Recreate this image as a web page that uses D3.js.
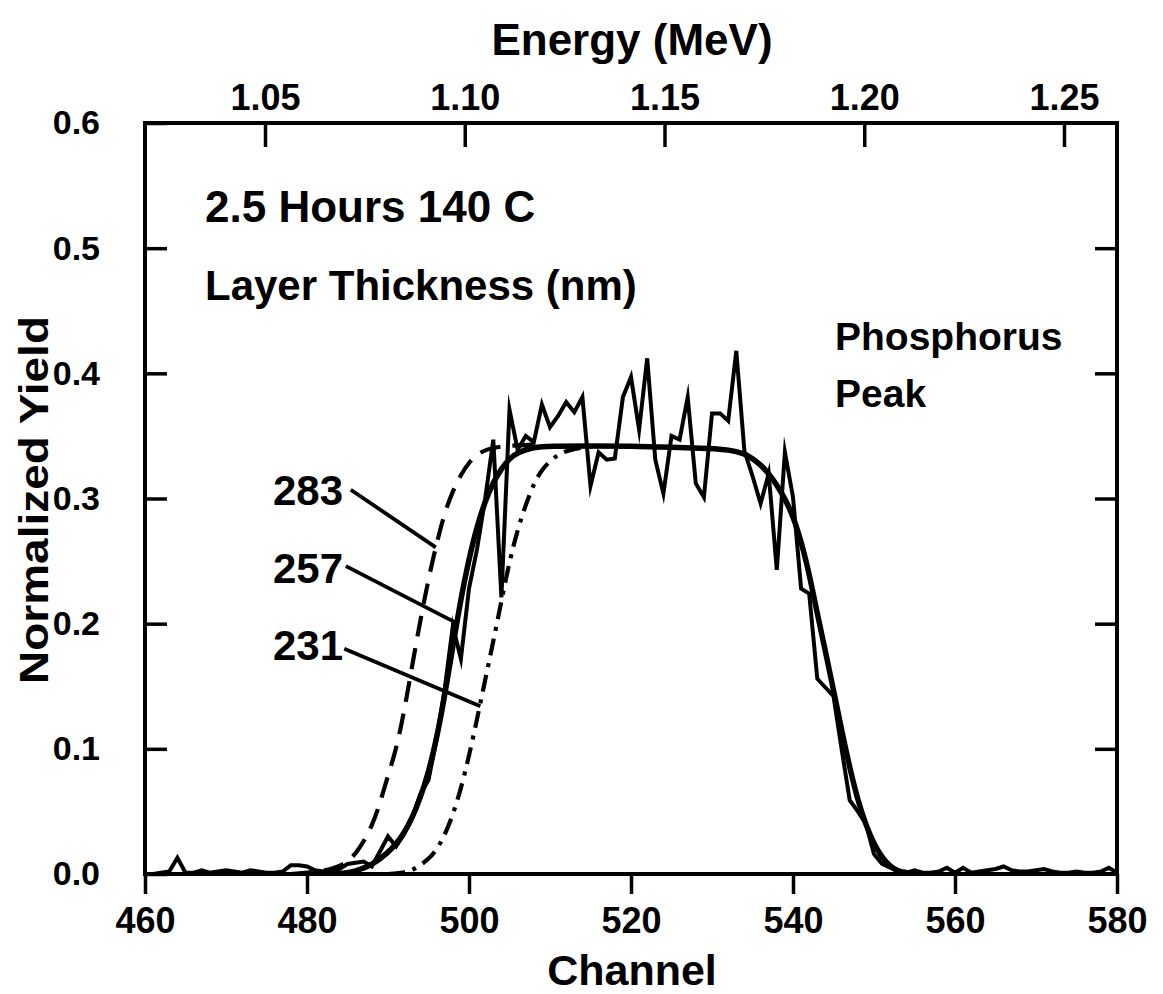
<!DOCTYPE html>
<html>
<head>
<meta charset="utf-8">
<script src="https://cdn.jsdelivr.net/npm/d3@7"></script>
<style>
  html, body { margin: 0; padding: 0; background: #fff; }
  svg { display: block; }
  text { font-family: "Liberation Sans", Arial, sans-serif; font-weight: bold; fill: #000; }
</style>
</head>
<body>
<svg id="chart" width="1163" height="994"></svg>
<script>
// Phosphorus peak, measured spectrum: one yield value per channel, 460..580
const channelStart = 460;
const measuredYield = [
  0.000, 0.000, 0.001, 0.002, 0.013, 0.001, 0.001, 0.003, 0.001, 0.002, // 460-469
  0.003, 0.002, 0.001, 0.003, 0.002, 0.001, 0.001, 0.002, 0.007, 0.007, // 470-479
  0.006, 0.003, 0.002, 0.001, 0.004, 0.008, 0.009, 0.010, 0.006, 0.018, // 480-489
  0.030, 0.022, 0.032, 0.045, 0.064, 0.075, 0.108, 0.148, 0.198, 0.172, // 490-499
  0.228, 0.260, 0.300, 0.347, 0.221, 0.371, 0.339, 0.350, 0.345, 0.375, // 500-509
  0.357, 0.366, 0.377, 0.369, 0.381, 0.310, 0.337, 0.331, 0.332, 0.381, // 510-519
  0.397, 0.355, 0.412, 0.331, 0.304, 0.350, 0.347, 0.381, 0.312, 0.301, // 520-529
  0.368, 0.368, 0.362, 0.418, 0.338, 0.318, 0.296, 0.320, 0.243, 0.337, // 530-539
  0.301, 0.228, 0.224, 0.156, 0.149, 0.142, 0.100, 0.059, 0.050, 0.040, // 540-549
  0.016, 0.008, 0.005, 0.002, 0.001, 0.003, 0.001, 0.001, 0.002, 0.005, // 550-559
  0.001, 0.005, 0.001, 0.002, 0.003, 0.004, 0.006, 0.003, 0.002, 0.002, // 560-569
  0.003, 0.004, 0.002, 0.001, 0.001, 0.002, 0.001, 0.001, 0.002, 0.005, // 570-579
  0.001                                                                  // 580
];

// Simulated spectrum, layer thickness 257 nm (solid)
const sim257Channel = [480, 484, 486, 488, 490, 491, 492, 493, 494, 495, 496, 497, 498, 499,
  500, 501, 502, 503, 504, 505, 506, 508, 510, 515, 520, 525, 530, 532, 534, 535, 536, 537,
  538, 539, 540, 541, 542, 543, 544, 545, 546, 547, 548, 549, 550, 551, 552, 553, 554, 556];
const sim257Yield = [0.000, 0.000, 0.002, 0.007, 0.017, 0.024, 0.033, 0.045, 0.061, 0.081,
  0.108, 0.142, 0.182, 0.220, 0.252, 0.278, 0.298, 0.313, 0.324, 0.332, 0.337, 0.341, 0.342,
  0.342, 0.342, 0.341, 0.340, 0.339, 0.336, 0.332, 0.327, 0.320, 0.311, 0.300, 0.286, 0.266,
  0.240, 0.208, 0.178, 0.147, 0.115, 0.085, 0.059, 0.039, 0.024, 0.013, 0.006, 0.002, 0.001, 0.000];

// Simulated spectrum, layer thickness 283 nm (dashed) - rear edge
const sim283Channel = [478, 482, 484, 485, 486, 487, 488, 489, 490, 491, 492, 493, 494, 495,
  496, 497, 498, 499, 500, 501, 502, 504, 508];
const sim283Yield = [0.000, 0.002, 0.006, 0.010, 0.016, 0.026, 0.038, 0.056, 0.079, 0.099,
  0.130, 0.167, 0.203, 0.236, 0.264, 0.289, 0.306, 0.319, 0.329, 0.335, 0.339, 0.342, 0.343];

// Simulated spectrum, layer thickness 231 nm (dash-dot) - rear edge
const sim231Channel = [490, 492, 493, 494, 495, 496, 497, 498, 499, 500, 501, 502, 503, 504,
  505, 506, 507, 508, 509, 510, 511, 512, 514, 516];
const sim231Yield = [0.000, 0.001, 0.003, 0.007, 0.012, 0.019, 0.031, 0.047, 0.068, 0.094,
  0.124, 0.155, 0.186, 0.218, 0.250, 0.275, 0.295, 0.312, 0.323, 0.330, 0.335, 0.338, 0.341, 0.342];

// Axis ticks
const channelTicks = [460, 480, 500, 520, 540, 560, 580];
const yieldTicks = [0.0, 0.1, 0.2, 0.3, 0.4, 0.5, 0.6];
const energyTicks = [1.05, 1.10, 1.15, 1.20, 1.25];

// Thickness labels and the curve point each leader points at
const thicknessLabels = ["283", "257", "231"];
const labelAnchorChannel = [485.4, 484.8, 484.6];
const labelAnchorYield = [0.307, 0.246, 0.180];
const leaderEndChannel = [495.9, 498.6, 501.4];
const leaderEndYield = [0.261, 0.200, 0.134];

// ---- layout ----
const svg = d3.select("#chart");
const plotLeft = 145, plotRight = 1117, plotTop = 123, plotBottom = 874;

const x = d3.scaleLinear().domain([460, 580]).range([plotLeft, plotRight]);
const y = d3.scaleLinear().domain([0, 0.6]).range([plotBottom, plotTop]);
// Energy calibration of the channel axis
const energy = d3.scaleLinear().domain([1.01996, 1.26327]).range([plotLeft, plotRight]);

svg.append("rect").attr("width", 1163).attr("height", 994).attr("fill", "#fff");

// clip so curves don't spill over the frame
svg.append("clipPath").attr("id", "clip")
  .append("rect").attr("x", plotLeft).attr("y", plotTop - 10)
  .attr("width", plotRight - plotLeft).attr("height", plotBottom - plotTop + 10);

const curves = svg.append("g").attr("clip-path", "url(#clip)");

const lineXY = d3.line().x(d => x(d[0])).y(d => y(d[1]));

const measured = measuredYield.map((v, i) => [channelStart + i, v]);
curves.append("path").datum(measured)
  .attr("fill", "none").attr("stroke", "#000").attr("stroke-width", 4)
  .attr("stroke-linejoin", "miter").attr("stroke-miterlimit", 10)
  .attr("d", lineXY);

const smooth = d3.line().x(d => x(d[0])).y(d => y(d[1])).curve(d3.curveBasis);

curves.append("path").datum(sim283Channel.map((c, i) => [c, sim283Yield[i]]))
  .attr("fill", "none").attr("stroke", "#000").attr("stroke-width", 4.2)
  .attr("stroke-dasharray", "21,12").attr("d", smooth);

curves.append("path").datum(sim231Channel.map((c, i) => [c, sim231Yield[i]]))
  .attr("fill", "none").attr("stroke", "#000").attr("stroke-width", 4.2)
  .attr("stroke-dasharray", "17,8,4,8").attr("d", smooth);

curves.append("path").datum(sim257Channel.map((c, i) => [c, sim257Yield[i]]))
  .attr("fill", "none").attr("stroke", "#000").attr("stroke-width", 5.5)
  .attr("d", smooth);

// ---- axes ----
const xAxis = d3.axisBottom(x).tickValues(channelTicks).tickSize(20).tickSizeOuter(0).tickPadding(13)
  .tickFormat(d3.format("d"));
const gx = svg.append("g").attr("transform", `translate(0,${plotBottom})`).call(xAxis);

const topAxis = d3.axisTop(energy).tickValues(energyTicks).tickSize(-24).tickSizeOuter(0).tickPadding(13)
  .tickFormat(d3.format(".2f"));
const gt = svg.append("g").attr("transform", `translate(0,${plotTop})`).call(topAxis);

const yAxis = d3.axisLeft(y).tickValues(yieldTicks).tickSize(-22).tickSizeOuter(0).tickPadding(45)
  .tickFormat(d3.format(".1f"));
const gy = svg.append("g").attr("transform", `translate(${plotLeft},0)`).call(yAxis);

const yAxisR = d3.axisRight(y).tickValues(yieldTicks.slice(1, -1)).tickSize(-22).tickSizeOuter(0).tickFormat("");
const gr = svg.append("g").attr("transform", `translate(${plotRight},0)`).call(yAxisR);

[gx, gt, gy, gr].forEach(g => {
  g.select(".domain").remove();
  g.selectAll(".tick line").attr("stroke", "#000").attr("stroke-width", 3.5);
  g.selectAll(".tick text").attr("font-size", 36)
    .attr("font-family", "'Liberation Sans', Arial, sans-serif").attr("font-weight", "bold").attr("fill", "#000");
});
gy.selectAll(".tick text").attr("font-size", 34);

// frame
svg.append("rect").attr("x", plotLeft).attr("y", plotTop)
  .attr("width", plotRight - plotLeft).attr("height", plotBottom - plotTop)
  .attr("fill", "none").attr("stroke", "#000").attr("stroke-width", 4);

// ---- titles ----
svg.append("text").attr("x", 632).attr("y", 55).attr("text-anchor", "middle")
  .attr("font-size", 44).text("Energy (MeV)");
svg.append("text").attr("x", 632).attr("y", 985).attr("text-anchor", "middle")
  .attr("font-size", 43).text("Channel");
svg.append("text").attr("transform", "translate(48,500) rotate(-90)").attr("text-anchor", "middle")
  .attr("font-size", 41).attr("textLength", 368).attr("lengthAdjust", "spacingAndGlyphs")
  .text("Normalized Yield");

// ---- annotations ----
svg.append("text").attr("x", 205).attr("y", 222).attr("font-size", 44).text("2.5 Hours 140 C");
svg.append("text").attr("x", 205).attr("y", 300).attr("font-size", 42).text("Layer Thickness (nm)");
svg.append("text").attr("x", 835).attr("y", 350).attr("font-size", 39).text("Phosphorus");
svg.append("text").attr("x", 835).attr("y", 407).attr("font-size", 39).text("Peak");

const labelBaselines = [505, 583, 660];
thicknessLabels.forEach((t, i) => {
  svg.append("text").attr("x", 343).attr("y", labelBaselines[i]).attr("text-anchor", "end")
    .attr("font-size", 42).text(t);
  svg.append("line")
    .attr("x1", x(labelAnchorChannel[i])).attr("y1", y(labelAnchorYield[i]))
    .attr("x2", x(leaderEndChannel[i])).attr("y2", y(leaderEndYield[i]))
    .attr("stroke", "#000").attr("stroke-width", 3.8);
});
</script>
</body>
</html>
